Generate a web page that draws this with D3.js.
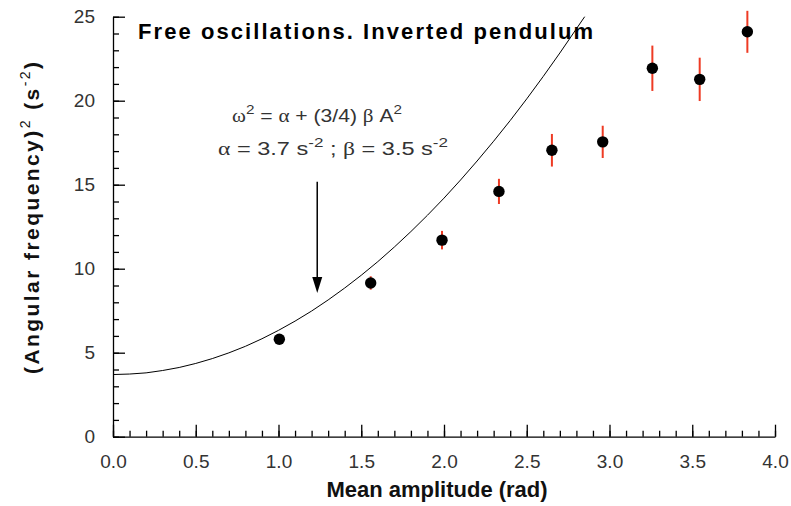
<!DOCTYPE html>
<html>
<head>
<meta charset="utf-8">
<script src="https://cdn.jsdelivr.net/npm/d3@7"></script>
<style>
  body { margin: 0; background: #fff; }
  svg { display: block; }
  .tick text { font-family: "Liberation Sans", Arial, sans-serif; font-size: 19px; fill: #333; }
</style>
</head>
<body>
<div class="chart"></div>
<script>
// chart data
var amplitude = [1.005, 1.557, 1.988, 2.332, 2.652, 2.959, 3.259, 3.545, 3.833];
var omega2    = [5.8, 9.15, 11.7, 14.6, 17.05, 17.55, 21.93, 21.27, 24.1];
var omega2Err = [0.25, 0.4, 0.55, 0.75, 0.97, 0.96, 1.35, 1.29, 1.25];

// fitted curve, sampled along the drawn line
var fitA = [0, 0.1, 0.2, 0.3, 0.4, 0.5, 0.6, 0.7, 0.8, 0.9, 1.0, 1.1, 1.2, 1.3, 1.4,
            1.5, 1.6, 1.7, 1.8, 1.9, 2.0, 2.1, 2.2, 2.3, 2.4, 2.5, 2.6, 2.7, 2.8, 2.85];
var fitW = [3.70, 3.73, 3.80, 3.94, 4.12, 4.36, 4.65, 4.99, 5.38, 5.83, 6.33, 6.88, 7.48, 8.14, 8.85,
            9.61, 10.42, 11.29, 12.21, 13.18, 14.20, 15.28, 16.41, 17.59, 18.82, 20.11, 21.45, 22.84, 24.28, 25.0];

var xTicks = [0, 0.5, 1.0, 1.5, 2.0, 2.5, 3.0, 3.5, 4.0];
var yTicks = [0, 5, 10, 15, 20, 25];
var xMinor = d3.range(0, 41).map(d => d / 10);
var yMinor = d3.range(0, 26);

var svgWidth = 791;
var svgHeight = 506;

var svg = d3.select(".chart")
  .append("svg")
  .attr("width", svgWidth)
  .attr("height", svgHeight);

var xScale = d3.scaleLinear().domain([0, 4]).range([113, 775]);
var yScale = d3.scaleLinear().domain([0, 25]).range([436.7, 16.7]);

// minor ticks first, then major axes on top
svg.append("g")
  .attr("transform", `translate(0, ${yScale(0)})`)
  .call(d3.axisBottom(xScale).tickValues(xMinor).tickSize(-6).tickSizeOuter(0).tickFormat(""))
  .call(g => g.select(".domain").remove());

svg.append("g")
  .attr("transform", `translate(${xScale(0)}, 0)`)
  .call(d3.axisLeft(yScale).tickValues(yMinor).tickSize(-6).tickSizeOuter(0).tickFormat(""))
  .call(g => g.select(".domain").remove());

svg.append("g")
  .attr("transform", `translate(0, ${yScale(0)})`)
  .call(d3.axisBottom(xScale).tickValues(xTicks).tickSize(-12).tickSizeOuter(0)
    .tickPadding(18).tickFormat(d3.format(".1f")));

svg.append("g")
  .attr("transform", `translate(${xScale(0)}, 0)`)
  .call(d3.axisLeft(yScale).tickValues(yTicks).tickSize(-12).tickSizeOuter(0)
    .tickPadding(18).tickFormat(d3.format("d")));

svg.selectAll(".domain, .tick line")
  .attr("stroke", "#000")
  .attr("stroke-width", 1.3);

// fitted curve
var line = d3.line()
  .x(d => xScale(d[0]))
  .y(d => yScale(d[1]));

svg.append("path")
  .datum(fitA.map((a, i) => [a, fitW[i]]))
  .attr("d", line)
  .attr("fill", "none")
  .attr("stroke", "#000")
  .attr("stroke-width", 1);

// error bars
svg.append("g").selectAll("line")
  .data(amplitude)
  .enter()
  .append("line")
  .attr("x1", d => xScale(d))
  .attr("x2", d => xScale(d))
  .attr("y1", (d, i) => yScale(omega2[i] - omega2Err[i]))
  .attr("y2", (d, i) => yScale(omega2[i] + omega2Err[i]))
  .attr("stroke", "#ee3b24")
  .attr("stroke-width", 2);

// points
svg.append("g").selectAll("circle")
  .data(amplitude)
  .enter()
  .append("circle")
  .attr("cx", d => xScale(d))
  .attr("cy", (d, i) => yScale(omega2[i]))
  .attr("r", 5.7)
  .attr("fill", "#000");

// title
svg.append("text")
  .attr("x", 138)
  .attr("y", 39)
  .attr("textLength", 455)
  .attr("lengthAdjust", "spacing")
  .style("font-family", "'Liberation Sans', Arial, sans-serif")
  .style("font-size", "22px")
  .style("font-weight", "bold")
  .text("Free oscillations. Inverted pendulum");

// axis labels
svg.append("text")
  .attr("x", 437)
  .attr("y", 497)
  .attr("text-anchor", "middle")
  .style("font-family", "'Liberation Sans', Arial, sans-serif")
  .style("font-size", "22px")
  .style("font-weight", "bold")
  .style("fill", "#111")
  .text("Mean amplitude (rad)");

var yLab = svg.append("text")
  .attr("transform", "translate(39, 218) rotate(-90)")
  .attr("text-anchor", "middle")
  .attr("textLength", 312)
  .attr("lengthAdjust", "spacing")
  .style("font-family", "'Liberation Sans', Arial, sans-serif")
  .style("font-size", "21px")
  .style("font-weight", "bold")
  .style("fill", "#111");
yLab.append("tspan").text("(Angular frequency)");
yLab.append("tspan").attr("dy", -9).style("font-size", "14px").style("font-weight", "normal").text("2");
yLab.append("tspan").attr("dy", 9).text("  (s");
yLab.append("tspan").attr("dy", -9).style("font-size", "14px").style("font-weight", "normal").text("-2");
yLab.append("tspan").attr("dy", 9).text(")");

// annotation
var greek = "'Liberation Serif', 'DejaVu Serif', serif";
var ann = svg.append("g")
  .style("font-family", "'Liberation Sans', Arial, sans-serif")
  .style("font-size", "18px")
  .style("fill", "#333");

var t1 = ann.append("text").attr("x", 232).attr("y", 122)
  .attr("textLength", 170).attr("lengthAdjust", "spacingAndGlyphs");
t1.append("tspan").style("font-family", greek).text("ω");
t1.append("tspan").attr("dy", -8).style("font-size", "13px").text("2");
t1.append("tspan").attr("dy", 8).text(" = ");
t1.append("tspan").style("font-family", greek).text("α");
t1.append("tspan").text(" + (3/4) ");
t1.append("tspan").style("font-family", greek).text("β");
t1.append("tspan").text(" A");
t1.append("tspan").attr("dy", -8).style("font-size", "13px").text("2");

var t2 = ann.append("text").attr("x", 218).attr("y", 155)
  .attr("textLength", 230).attr("lengthAdjust", "spacingAndGlyphs");
t2.append("tspan").style("font-family", greek).text("α");
t2.append("tspan").text(" = 3.7 s");
t2.append("tspan").attr("dy", -8).style("font-size", "13px").text("-2");
t2.append("tspan").attr("dy", 8).text("  ;  ");
t2.append("tspan").style("font-family", greek).text("β");
t2.append("tspan").text(" = 3.5  s");
t2.append("tspan").attr("dy", -8).style("font-size", "13px").text("-2");

// arrow pointing at the curve
var arrowX = 1.234, arrowTop = 15.18, arrowTip = 8.55;
svg.append("line")
  .attr("x1", xScale(arrowX)).attr("x2", xScale(arrowX))
  .attr("y1", yScale(arrowTop)).attr("y2", yScale(arrowTip) - 10)
  .attr("stroke", "#000").attr("stroke-width", 1.5);
svg.append("path")
  .attr("d", `M${xScale(arrowX) - 5},${yScale(arrowTip) - 16} L${xScale(arrowX) + 5},${yScale(arrowTip) - 16} L${xScale(arrowX)},${yScale(arrowTip)} Z`)
  .attr("fill", "#000");
</script>
</body>
</html>
